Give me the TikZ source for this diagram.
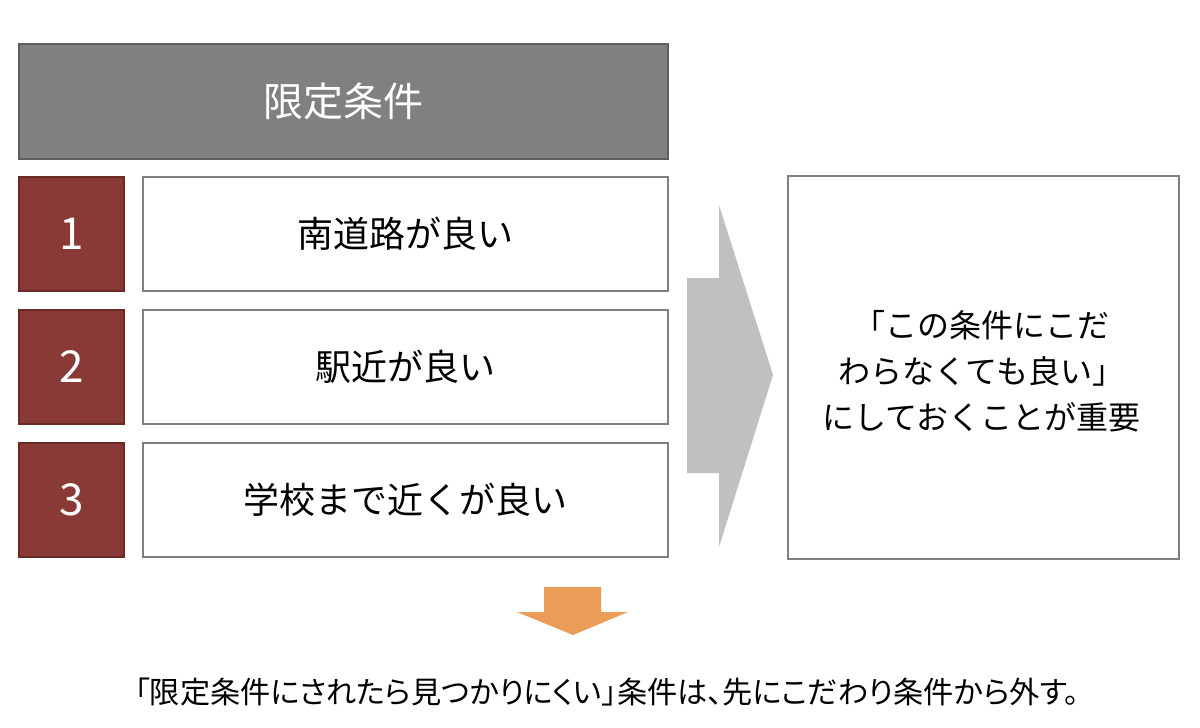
\documentclass[tikz,border=0pt]{standalone}
\usepackage{fontspec}
\newfontfamily\jpfont{Noto Sans CJK JP}
\newfontfamily\jppfont[RawFeature=+palt]{Noto Sans CJK JP}
\usepackage{tikz}
\usetikzlibrary{positioning}
\definecolor{headgray}{RGB}{128,128,128}
\definecolor{headline}{RGB}{95,95,95}
\definecolor{numred}{RGB}{138,58,54}
\definecolor{numline}{RGB}{105,42,39}
\definecolor{boxline}{RGB}{128,128,128}
\definecolor{arrowgray}{RGB}{192,192,192}
\definecolor{arroworange}{RGB}{235,156,87}

\begin{document}
\begin{tikzpicture}[x=1pt,y=-1pt,
  every node/.style={inner sep=0pt,outer sep=0pt},
  headbox/.style={draw=headline,fill=headgray,line width=1.2pt,text=white,
    minimum width=649pt,minimum height=115pt,font=\jpfont\fontsize{40}{48}\selectfont},
  numbox/.style={draw=numline,fill=numred,line width=1.2pt,text=white,
    minimum width=105pt,minimum height=114pt,font=\jpfont\fontsize{44}{52}\selectfont},
  condbox/.style={draw=boxline,line width=1.2pt,
    minimum width=525pt,minimum height=114pt,font=\jpfont\fontsize{36}{44}\selectfont}]
\useasboundingbox[fill=white] (0,0) rectangle (1200,728);

\node[headbox,anchor=north west] (head) at (19,44) {限定条件};

\foreach \n/\txt/\top in {1/南道路が良い/177, 2/駅近が良い/310, 3/学校まで近くが良い/443}{
  \node[numbox,anchor=north west] (num\n) at (19,\top) {\n};
  \node[condbox,right=19pt of num\n] (cond\n) {\txt};
}

% big grey arrow
\fill[arrowgray] (687,278) -- (719,278) -- (719,205) -- (773,375) -- (719,547)
  -- (719,473) -- (687,473) -- cycle;

\node[draw=boxline,line width=1.2pt,anchor=north west,minimum width=391pt,
  minimum height=383pt] (result) at (788,176) {};
\node[align=center,font=\jpfont\fontsize{32}{46}\selectfont] (resulttext)
  at ([xshift=-2pt,yshift=-4pt]result.center)
  {「この条件にこだ\\わらなくても良い」\\にしておくことが重要};

% orange arrow
\fill[arroworange] (544,587) -- (601,587) -- (601,612) -- (628,612) -- (573,635)
  -- (517,612) -- (544,612) -- cycle;

\node[font=\jppfont\fontsize{30.2}{36}\selectfont] (note) at (607,692)
  {「限定条件にされたら見つかりにくい」条件は、先にこだわり条件から外す。};
\end{tikzpicture}
\end{document}
